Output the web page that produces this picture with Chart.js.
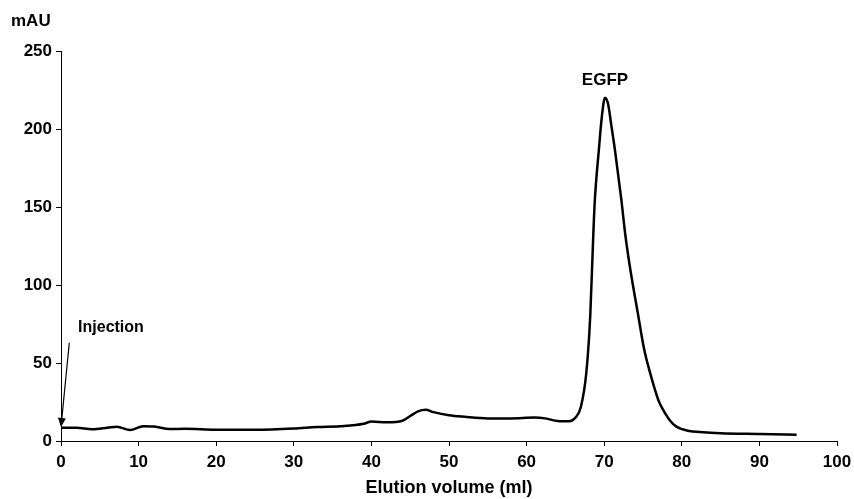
<!DOCTYPE html>
<html>
<head>
<meta charset="utf-8">
<script src="https://cdn.jsdelivr.net/npm/chart.js@4"></script>
<style>
  html, body { margin: 0; padding: 0; background: #fff; }
  #wrap { width: 854px; height: 499px; position: relative; }
</style>
</head>
<body>
<div id="wrap"><canvas id="chromChart"></canvas></div>
<script>
// elution volume (ml) and absorbance (mAU)
const volume = [0, 2, 4, 6, 7.2, 8.9, 10.6, 12, 14, 16, 20, 25, 30, 33, 36, 39, 40, 42, 44, 45, 46, 47, 48, 50, 52, 55, 58, 61, 62.4, 64, 65.5, 66.3, 67, 67.7, 68.2, 68.6, 68.8, 69.3, 69.7, 70.1, 70.5, 70.9, 71.4, 72.2, 72.7, 73.3, 74.4, 75.1, 75.9, 77, 77.6, 78.5, 79.3, 81, 82.3, 85, 90, 94.8];
const absorbance = [8.5, 8.5, 7.5, 8.5, 9.2, 7, 9.5, 9.3, 7.7, 7.8, 7.2, 7.2, 8, 9, 9.5, 11, 12.5, 12, 13, 16, 19, 20, 18.5, 16.5, 15.5, 14.5, 14.5, 15, 14.5, 12.8, 12.6, 15, 22, 44, 80, 133, 155, 186, 208, 220, 216, 203, 186, 155, 133, 112, 80, 60, 44, 26, 20, 13, 9.2, 6.4, 5.8, 5, 4.5, 4];
const xTicks = [0, 10, 20, 30, 40, 50, 60, 70, 80, 90, 100];
const yTicks = [0, 50, 100, 150, 200, 250];

const points = volume.map((v, i) => ({ x: v, y: absorbance[i] }));

const fontFam = '"Liberation Sans", Arial, sans-serif';

const labels = {
    id: 'labels',
    afterDraw(chart) {
        const c = chart.ctx;
        const xs = chart.scales.x;
        const ys = chart.scales.y;
        c.save();
        c.fillStyle = '#000';
        c.strokeStyle = '#000';
        c.font = 'bold 17px ' + fontFam;
        c.textBaseline = 'middle';

        c.textAlign = 'left';
        c.fillText('mAU', 11, 21);

        c.textAlign = 'center';
        c.fillText('EGFP', xs.getPixelForValue(70.1), ys.getPixelForValue(231));

        c.font = 'bold 16px ' + fontFam;
        c.textAlign = 'left';
        c.fillText('Injection', xs.getPixelForValue(2.2), ys.getPixelForValue(73));

        // arrow for injection
        const x0 = xs.getPixelForValue(1.07), y0 = ys.getPixelForValue(63);
        const x1 = xs.getPixelForValue(0), y1 = ys.getPixelForValue(9);
        const ang = Math.atan2(y1 - y0, x1 - x0);
        c.lineWidth = 1.2;
        c.beginPath();
        c.moveTo(x0, y0);
        c.lineTo(x1 - 6 * Math.cos(ang), y1 - 6 * Math.sin(ang));
        c.stroke();
        c.beginPath();
        c.moveTo(x1, y1);
        c.lineTo(x1 - 9 * Math.cos(ang) + 4 * Math.sin(ang), y1 - 9 * Math.sin(ang) - 4 * Math.cos(ang));
        c.lineTo(x1 - 9 * Math.cos(ang) - 4 * Math.sin(ang), y1 - 9 * Math.sin(ang) + 4 * Math.cos(ang));
        c.closePath();
        c.fill();
        c.restore();
    }
};

const ctx = document.getElementById('chromChart').getContext('2d');

new Chart(ctx, {
    type: 'line',
    data: {
        datasets: [{
            data: points,
            borderColor: '#000',
            borderWidth: 2.5,
            pointRadius: 0,
            cubicInterpolationMode: 'monotone',
            fill: false
        }]
    },
    options: {
        responsive: true,
        maintainAspectRatio: false,
        animation: false,
        layout: {
            padding: { top: 51, right: 17, left: 0, bottom: 0 }
        },
        plugins: {
            legend: { display: false },
            tooltip: { enabled: false }
        },
        scales: {
            x: {
                type: 'linear',
                min: 0,
                max: 100,
                afterBuildTicks: (s) => { s.ticks = xTicks.map(v => ({ value: v })); },
                afterFit: (s) => { s.height = 58; s.paddingRight = 0; s.paddingLeft = 0; },
                grid: { drawOnChartArea: false, drawTicks: true, tickLength: 5, color: '#000' },
                border: { color: '#000', width: 1 },
                ticks: {
                    color: '#000',
                    font: { family: fontFam, size: 17, weight: 'bold' },
                    padding: 6,
                    maxRotation: 0
                },
                title: {
                    display: true,
                    text: 'Elution volume (ml)',
                    color: '#000',
                    font: { family: fontFam, size: 18, weight: 'bold' },
                    padding: { top: 2, bottom: 0 }
                }
            },
            y: {
                min: 0,
                max: 250,
                afterBuildTicks: (s) => { s.ticks = yTicks.map(v => ({ value: v })); },
                afterFit: (s) => { s.width = 61; },
                grid: { drawOnChartArea: false, drawTicks: true, tickLength: 5, color: '#000' },
                border: { color: '#000', width: 1 },
                ticks: {
                    color: '#000',
                    font: { family: fontFam, size: 17, weight: 'bold' },
                    padding: 4
                }
            }
        }
    },
    plugins: [labels]
});
</script>
</body>
</html>
